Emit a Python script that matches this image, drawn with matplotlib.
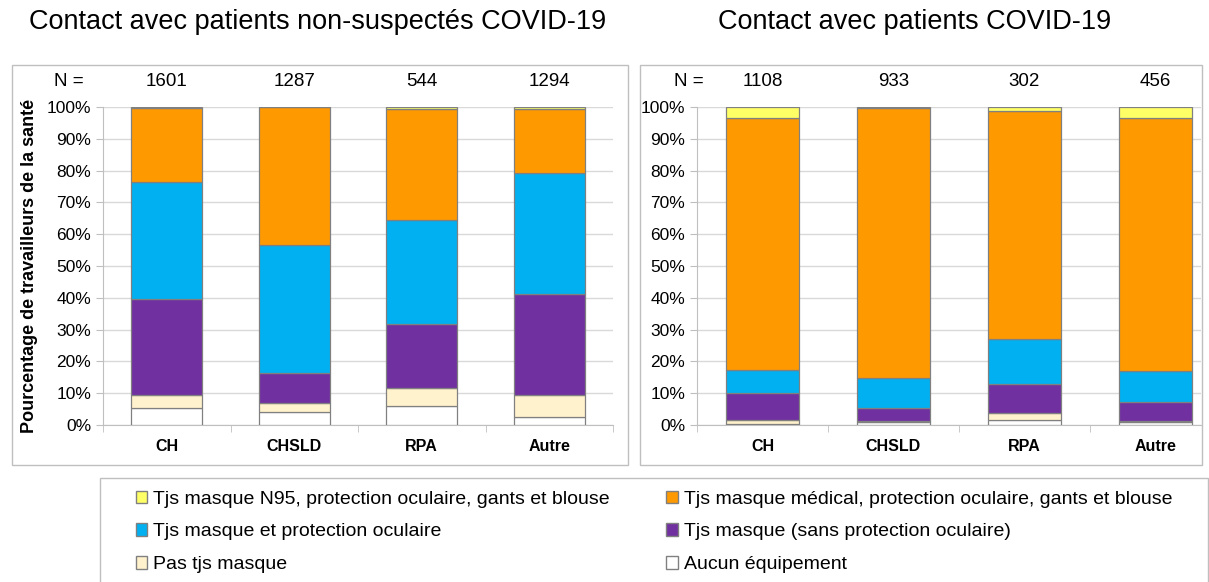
import matplotlib
matplotlib.use('Agg')
import matplotlib.pyplot as plt
from matplotlib.patches import Rectangle, Patch
from matplotlib.ticker import FuncFormatter

plt.rcParams['font.family'] = ['Liberation Sans', 'DejaVu Sans']

cats = ['CH', 'CHSLD', 'RPA', 'Autre']
n_left = [1601, 1287, 544, 1294]
n_right = [1108, 933, 302, 456]

labels = ['Aucun équipement', 'Pas tjs masque', 'Tjs masque (sans protection oculaire)',
          'Tjs masque et protection oculaire',
          'Tjs masque médical, protection oculaire, gants et blouse',
          'Tjs masque N95, protection oculaire, gants et blouse']
colors = ['#FFFFFF', '#FFF2CC', '#7030A0', '#00B0F0', '#FF9900', '#FFFF66']

# bottom to top, percent
left_vals = [
    [5.5, 4.1, 5.9, 2.5],
    [4.0, 2.8, 5.6, 7.0],
    [30.1, 9.6, 20.3, 31.7],
    [36.8, 40.0, 32.7, 38.0],
    [23.4, 43.5, 35.0, 20.2],
    [0.2, 0.0, 0.5, 0.6],
]
right_vals = [
    [0.2, 0.9, 1.6, 0.9],
    [1.5, 0.5, 2.1, 0.4],
    [8.5, 3.8, 9.2, 5.9],
    [7.0, 9.7, 14.1, 9.9],
    [79.2, 84.9, 71.6, 79.3],
    [3.6, 0.2, 1.4, 3.6],
]

W, H = 1209, 582
fig = plt.figure(figsize=(W / 100, H / 100), dpi=100)

def px(x0, y0, x1, y1):
    return [x0 / W, 1 - y1 / H, (x1 - x0) / W, (y1 - y0) / H]

# panel frames
for x0, y0, x1, y1 in [(12, 65, 628, 465), (640, 65, 1202, 465), (100, 478, 1208, 590)]:
    fig.add_artist(Rectangle((x0 / W, 1 - y1 / H), (x1 - x0) / W, (y1 - y0) / H,
                             transform=fig.transFigure, fill=False,
                             edgecolor='#BFBFBF', lw=1.0))

def draw(ax, vals, ns):
    bottom = [0] * len(cats)
    for v, c in zip(vals, colors):
        ax.bar(range(len(cats)), v, bottom=bottom, width=0.56, color=c,
               edgecolor='#808080', linewidth=0.9, zorder=3)
        bottom = [b + x for b, x in zip(bottom, v)]
    ax.set_ylim(0, 100)
    ax.set_yticks(range(0, 101, 10))
    ax.yaxis.set_major_formatter(FuncFormatter(lambda y, p: '%d%%' % y))
    ax.grid(axis='y', color='#D9D9D9', lw=1, zorder=0)
    ax.set_xticks(range(len(cats)))
    ax.set_xticklabels(cats, fontweight='bold', fontsize=11.5)
    ax.set_xticks([i - 0.5 for i in range(len(cats) + 1)], minor=True)
    ax.tick_params(axis='x', which='major', length=0, pad=10)
    ax.tick_params(axis='x', which='minor', length=5, color='#BFBFBF')
    ax.tick_params(axis='y', length=5, color='#BFBFBF', labelsize=12.5)
    for s in ['top', 'right']:
        ax.spines[s].set_visible(False)
    for s in ['left', 'bottom']:
        ax.spines[s].set_color('#BFBFBF')
    for i, n in enumerate(ns):
        ax.text(i, 108, str(n), ha='center', va='center', fontsize=13.5)

ax1 = fig.add_axes(px(103, 107, 613, 425))
draw(ax1, left_vals, n_left)
ax1.set_xlim(-0.5, 3.5)
ax1.set_ylabel('Pourcentage de travailleurs de la santé', fontweight='bold',
               fontsize=13, labelpad=6)
ax1.text(-0.65, 108, 'N =', ha='right', va='center', fontsize=13.5)

ax2 = fig.add_axes(px(697, 107, 1201, 425))
draw(ax2, right_vals, n_right)
ax2.set_xlim(-0.5, 3.35)
ax2.text(-0.45, 108, 'N =', ha='right', va='center', fontsize=13.5)

fig.text(318 / W, 1 - 22 / H, 'Contact avec patients non-suspectés COVID-19',
         ha='center', va='center', fontsize=19.5)
fig.text(915 / W, 1 - 22 / H, 'Contact avec patients COVID-19',
         ha='center', va='center', fontsize=19.5)

order = [5, 3, 1, 4, 2, 0]
handles = [Patch(facecolor=colors[i], edgecolor='#808080') for i in order]
fig.legend(handles, [labels[i] for i in order], ncol=2, frameon=False,
           loc='upper left', bbox_to_anchor=(118 / W, 1 - 473 / H),
           fontsize=14, handlelength=0.6, handleheight=0.6, handletextpad=0.3,
           columnspacing=2.9, labelspacing=0.82)

fig.savefig('out.png', dpi=100)
